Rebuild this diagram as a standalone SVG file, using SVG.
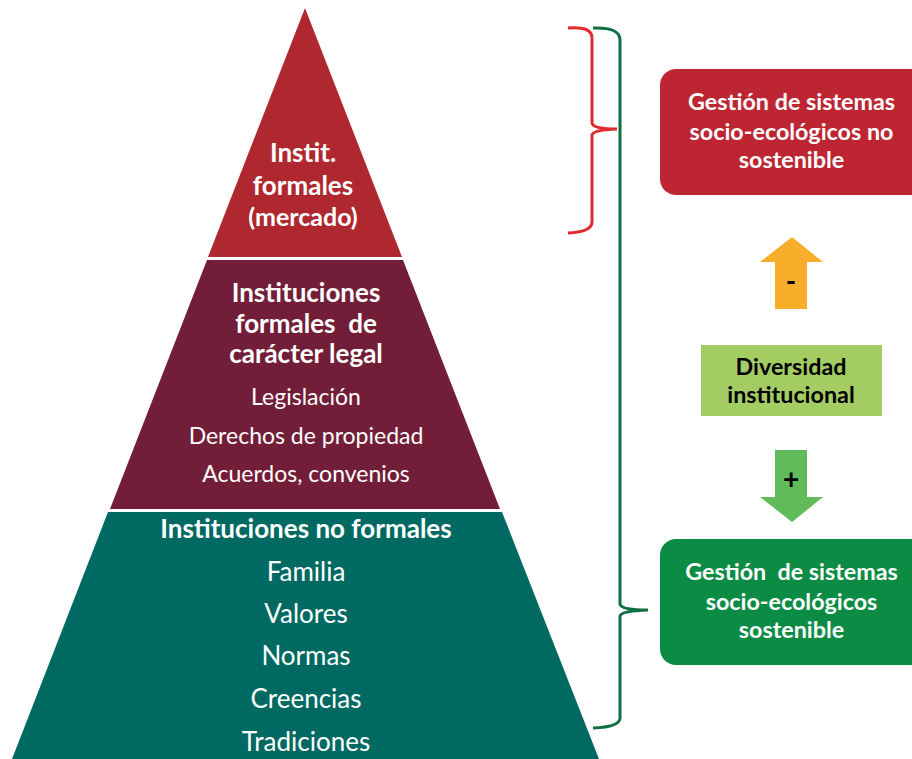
<svg xmlns="http://www.w3.org/2000/svg" width="912" height="759" viewBox="0 0 912 759">
<style>
text{font-family:Lato,"Open Sans","Liberation Sans",sans-serif;text-anchor:middle;white-space:pre}
.w{fill:#fff}
.b{font-weight:bold}
.k{fill:#000}
.t{font-size:26px}
.s{font-size:23.3px}
.n{font-size:23px}
</style>
<rect width="912" height="759" fill="#fff"/>
<g id="top-level">
<polygon points="305,8 402,257 208,257" fill="#B0282F"/>
<text class="w b t" x="303" y="162">Instit.</text>
<text class="w b t" x="303" y="195">formales</text>
<text class="w b" style="font-size:25px" x="303" y="226">(mercado)</text>
</g>
<g id="middle-level">
<polygon points="207,260 403,260 500,509 110,509" fill="#731E38"/>
<text class="w b t" x="306" y="302">Instituciones</text>
<text class="w b t" x="306" y="333" xml:space="preserve">formales  de</text>
<text class="w b t" x="306" y="363">carácter legal</text>
<text class="w n" x="306" y="405">Legislación</text>
<text class="w n" x="306" y="444">Derechos de propiedad</text>
<text class="w n" x="306" y="482">Acuerdos, convenios</text>
</g>
<g id="bottom-level">
<polygon points="108,512 502,512 599,759 12,759" fill="#006A62"/>
<text class="w b t" x="306" y="538">Instituciones no formales</text>
<text class="w t" x="306" y="581">Familia</text>
<text class="w t" x="306" y="623">Valores</text>
<text class="w t" x="306" y="665">Normas</text>
<text class="w t" x="306" y="708">Creencias</text>
<text class="w t" x="306" y="751">Tradiciones</text>
</g>
<g id="box-no-sostenible">
<rect x="660" y="69" width="270" height="126" rx="16" fill="#BE2532"/>
<text class="w b s" x="791.5" y="110">Gestión de sistemas</text>
<text class="w b s" x="791.5" y="140">socio-ecológicos no</text>
<text class="w b s" x="791.5" y="168">sostenible</text>
</g>
<g id="diversidad">
<rect x="701" y="345" width="181" height="71" fill="#A3CD62"/>
<text class="k b s" x="791" y="375">Diversidad</text>
<text class="k b s" x="791" y="403">institucional</text>
</g>
<g id="box-sostenible">
<rect x="660" y="539" width="270" height="126" rx="16" fill="#0C8B45"/>
<text class="w b s" x="791.5" y="580" xml:space="preserve">Gestión  de sistemas</text>
<text class="w b s" x="791.5" y="610">socio-ecológicos</text>
<text class="w b s" x="791.5" y="638">sostenible</text>
</g>
<g id="connectors">
<polygon points="792,237 823,262 807,262 807,309 775,309 775,262 760,262" fill="#F9AE2B"/>
<text class="k b" style="font-size:28px" x="791" y="291">-</text>
<polygon points="775,450 807,450 807,497 823,497 792,522 760,497 775,497" fill="#61BB5A"/>
<text class="k b" style="font-size:28px" x="791" y="489">+</text>
<path d="M568,28 Q592,26 592,38 L592,123 Q593,129 617,129 Q593,130 592,135 L592,222 Q592,232 568,233" fill="none" stroke="#E02A2F" stroke-width="3"/>
<path d="M593,28 Q620,27 620,40 L620,604 Q621,610 648,610 Q621,611 620,616 L620,718 Q620,727 593,728" fill="none" stroke="#0E7040" stroke-width="3"/>
</g>
</svg>
